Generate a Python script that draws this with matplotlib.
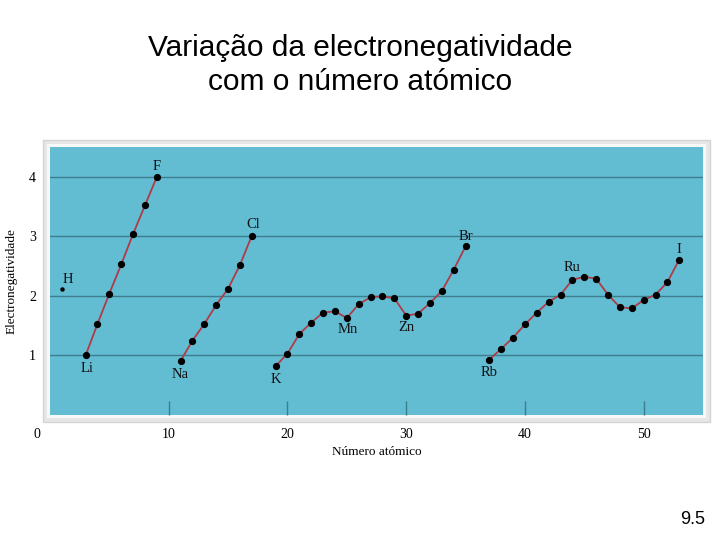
import matplotlib
matplotlib.use("Agg")
import matplotlib.pyplot as plt
from matplotlib.patches import Rectangle
from matplotlib.transforms import ScaledTranslation

# electronegativity per period
h_z = [1]
h_en = [2.12]

p2_z = [3, 4, 5, 6, 7, 8, 9]
p2_en = [1.0, 1.53, 2.04, 2.53, 3.04, 3.52, 4.0]

p3_z = [11, 12, 13, 14, 15, 16, 17]
p3_en = [0.91, 1.25, 1.53, 1.85, 2.12, 2.52, 3.01]

p4_z = list(range(19, 36))
p4_en = [0.82, 1.03, 1.36, 1.55, 1.72, 1.74, 1.63, 1.86, 1.98, 1.99,
         1.96, 1.67, 1.70, 1.88, 2.08, 2.44, 2.83]

p5_z = list(range(37, 54))
p5_en = [0.93, 1.11, 1.30, 1.52, 1.72, 1.90, 2.02, 2.27, 2.32, 2.29,
         2.02, 1.81, 1.79, 1.93, 2.02, 2.23, 2.61]

# labelled elements: symbol, atomic number
label_syms = ["H", "Li", "F", "Na", "Cl", "K", "Mn", "Zn", "Br", "Rb", "Ru", "I"]
label_z = [1, 3, 9, 11, 17, 19, 25, 30, 35, 37, 44, 53]
# text offset in pixels from the point
label_off = [(6, 9), (1, -13), (0, 10), (0, -14), (1, 11), (0, -13),
             (1, -12), (0, -12), (0, 10), (0, -13), (0, 12), (0, 10)]

x_ticks = [0, 10, 20, 30, 40, 50]
y_ticks = [1, 2, 3, 4]

blue = "#62bcd2"
grid_col = "#3e7d8c"
line_col = "#b03a48"
serif = "Liberation Serif"

fig = plt.figure(figsize=(7.2, 5.4), dpi=100)
W, H = 720, 540
ax = fig.add_axes([50 / W, 1 - 415 / H, 653 / W, 268 / H])
ax.set_facecolor(blue)
ax.set_xlim(0, 55)
ax.set_ylim(0, 4.5)

# grey frame round the plot area, behind the axes
fig.patches.append(Rectangle((43 / W, 1 - 422 / H), 667 / W, 282 / H,
                             transform=fig.transFigure, facecolor="#e6e6e6",
                             edgecolor="#d4d4d4", lw=1, zorder=-2))
fig.patches.append(Rectangle((47 / W, 1 - 418 / H), 659 / W, 274 / H,
                             transform=fig.transFigure, facecolor="#f8f8f8",
                             edgecolor="none", zorder=-1))

for s in ax.spines.values():
    s.set_visible(False)

for y in y_ticks:
    ax.axhline(y, color=grid_col, lw=1, zorder=1)

all_pts = {}
for zs, ens in [(p2_z, p2_en), (p3_z, p3_en), (p4_z, p4_en), (p5_z, p5_en)]:
    ax.plot(zs, ens, color=line_col, lw=1.3, zorder=2)
    ax.plot(zs, ens, "o", color="black", ms=4.2, zorder=3)
    all_pts.update(dict(zip(zs, ens)))
ax.plot(h_z, h_en, "o", color="black", ms=2.2, zorder=3)
all_pts.update(dict(zip(h_z, h_en)))

for sym, z, off in zip(label_syms, label_z, label_off):
    ax.annotate(sym, (z, all_pts[z]), xytext=off, textcoords="offset pixels",
                ha="center", va="center", fontsize=10.5, family=serif,
                color="#111111")

ax.set_xticks(x_ticks)
ax.set_yticks(y_ticks)
ax.tick_params(axis="x", direction="in", length=10, width=1, color=grid_col,
               pad=9, labelsize=10)
ax.tick_params(axis="y", length=0, pad=10, labelsize=10)
for lab in ax.get_xticklabels() + ax.get_yticklabels():
    lab.set_family(serif)
# the "0" label sits to the left of the frame
xl = ax.get_xticklabels()
xl[0].set_transform(xl[0].get_transform() +
                    ScaledTranslation(-13 / 100, 0, fig.dpi_scale_trans))
ax.xaxis.get_major_ticks()[0].tick1line.set_visible(False)

ax.set_xlabel("Número atómico", family=serif, fontsize=9.5, labelpad=4)
ax.set_ylabel("Electronegatividade", family=serif, fontsize=9.5, labelpad=8)

fig.text(0.5, 1 - 65 / H, "Variação da electronegatividade\ncom o número atómico",
         ha="center", va="center", fontsize=21.5, family="Liberation Sans",
         linespacing=1.3)
fig.text(693 / W, 1 - 519 / H, "9.5", ha="center", va="center", fontsize=13,
         family="Liberation Sans")

fig.savefig("out.png", dpi=100)
